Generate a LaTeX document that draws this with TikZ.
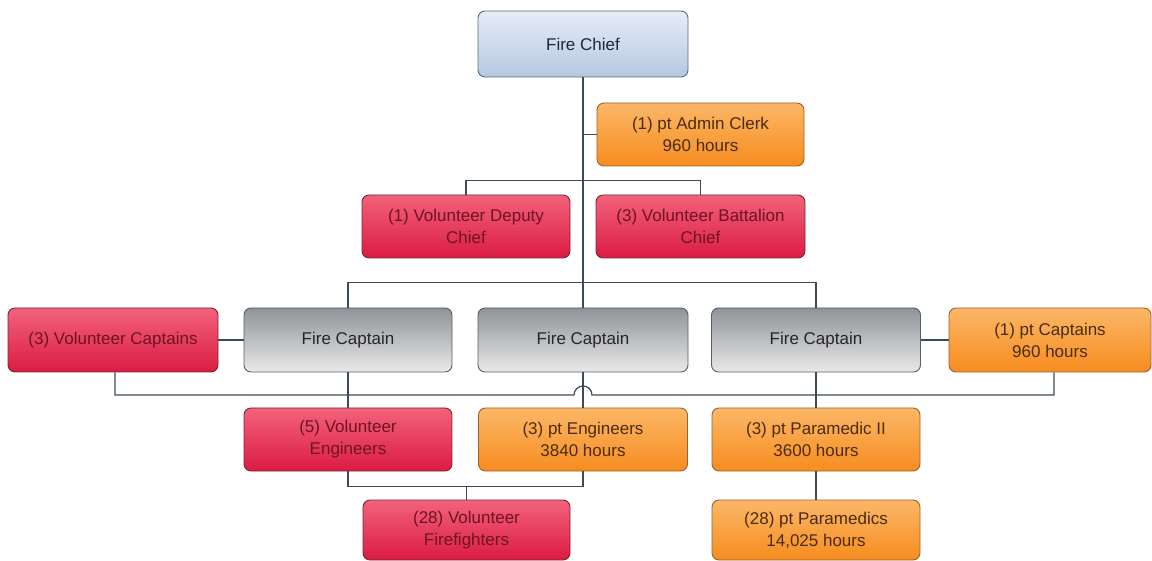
\documentclass[tikz,border=0pt]{standalone}
\usepackage{fontspec}
\setmainfont{Liberation Sans}
\usetikzlibrary{calc}
\definecolor{linec}{HTML}{3D4A58}
\definecolor{bluetop}{HTML}{E6EDF6}
\definecolor{bluebot}{HTML}{B4C8E2}
\definecolor{blueedge}{HTML}{5A6B80}
\definecolor{bluetext}{HTML}{1E2836}
\definecolor{orangetop}{HTML}{FCB767}
\definecolor{orangebot}{HTML}{F68C1F}
\definecolor{orangeedge}{HTML}{9A6230}
\definecolor{orangetext}{HTML}{4A2C12}
\definecolor{redtop}{HTML}{F2627A}
\definecolor{redbot}{HTML}{DB1B43}
\definecolor{rededge}{HTML}{7C2634}
\definecolor{redtext}{HTML}{6E1422}
\definecolor{graytop}{HTML}{8F9398}
\definecolor{graybot}{HTML}{E9E9E9}
\definecolor{grayedge}{HTML}{565E66}
\begin{document}
\begin{tikzpicture}[x=1pt,y=-1pt,
  orgbox/.style={rectangle, rounded corners=7pt, line width=0.9pt, align=center,
    inner sep=0pt, font=\fontsize{17}{22}\selectfont},
  chiefbox/.style={orgbox, draw=blueedge, top color=bluetop, bottom color=bluebot, text=bluetext},
  ptbox/.style={orgbox, draw=orangeedge, top color=orangetop, bottom color=orangebot, text=orangetext},
  volbox/.style={orgbox, draw=rededge, top color=redtop, bottom color=redbot, text=redtext},
  captbox/.style={orgbox, draw=grayedge, top color=graytop, bottom color=graybot, text=black!85},
  link/.style={draw=linec, line width=1.2pt}]
\useasboundingbox (0,0) rectangle (1152,561);

% boxes
\node[chiefbox, minimum width=210pt, minimum height=66pt] (chief) at (583,44) {Fire Chief};
\node[ptbox, minimum width=207pt, minimum height=63pt] (clerk) at (700.5,134.5) {(1) pt Admin Clerk\\960 hours};
\node[volbox, minimum width=208pt, minimum height=63pt] (deputy) at (466,226.5) {(1) Volunteer Deputy\\Chief};
\node[volbox, minimum width=209pt, minimum height=63pt] (battalion) at (700.5,226.5) {(3) Volunteer Battalion\\Chief};

\node[volbox, minimum width=210pt, minimum height=64pt] (volcapt) at (113,340) {(3) Volunteer Captains};
\node[captbox, minimum width=208pt, minimum height=64pt] (cap1) at (348,340) {Fire Captain};
\node[captbox, minimum width=210pt, minimum height=64pt] (cap2) at (583,340) {Fire Captain};
\node[captbox, minimum width=209pt, minimum height=64pt] (cap3) at (816,340) {Fire Captain};
\node[ptbox, minimum width=202pt, minimum height=64pt] (ptcapt) at (1050,340) {(1) pt Captains\\960 hours};

\node[volbox, minimum width=208pt, minimum height=63pt] (voleng) at (348,439.5) {(5) Volunteer\\Engineers};
\node[ptbox, minimum width=209pt, minimum height=63pt] (pteng) at (583,439.5) {(3) pt Engineers\\3840 hours};
\node[ptbox, minimum width=208pt, minimum height=63pt] (param2) at (816,439.5) {(3) pt Paramedic II\\3600 hours};

\node[volbox, minimum width=207pt, minimum height=60pt] (firefighters) at (466.5,530) {(28) Volunteer\\Firefighters};
\node[ptbox, minimum width=208pt, minimum height=60pt] (paramedics) at (816,530) {(28) pt Paramedics\\14,025 hours};

% helper level for the captains' link
\coordinate (lowbus) at (0,395);

% connectors
\draw[link] (chief.south) -- (cap2.north);
\draw[link] (clerk.west) -- (clerk.west -| chief.south);
\draw[link] (deputy.north) -- ++(0,-14) -| (battalion.north);
\draw[link] (cap1.north) -- ++(0,-25) -| (cap3.north);
\draw[link] (volcapt.east) -- (cap1.west);
\draw[link] (cap3.east) -- (ptcapt.west);
\draw[link] (cap1.south) -- (voleng.north);
\draw[link] (cap2.south) -- (pteng.north);
\draw[link] (cap3.south) -- (param2.north);
\draw[link] (param2.south) -- (paramedics.north);
\draw[link] (voleng.south) -- ++(0,15) -| (pteng.south);
\draw[link] (firefighters.north) -- ++(0,-13);

% captains' link passing over the engineers' line
\coordinate (hopL) at ($(cap2.south |- lowbus)+(-9,0)$);
\draw[link] ([xshift=2pt]volcapt.south) |- (hopL)
  arc[start angle=180, end angle=0, radius=9pt]
  -| ([xshift=4pt]ptcapt.south);
\end{tikzpicture}
\end{document}
